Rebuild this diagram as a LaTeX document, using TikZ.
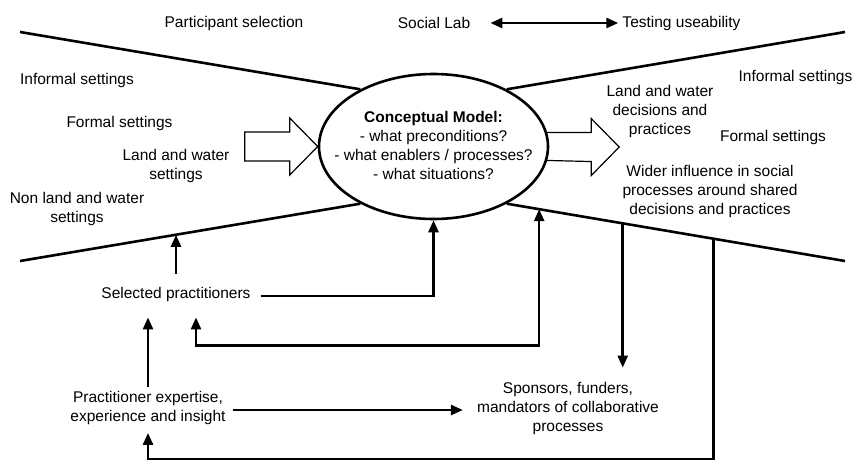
\documentclass[tikz,border=0pt]{standalone}
\usepackage{fontspec}
\setmainfont{Liberation Sans}
\usepackage{tikz}
\usetikzlibrary{shapes.geometric,arrows.meta}
\tikzstyle{every node}=[font=\fontsize{15.5}{19}\selectfont,inner sep=0pt,align=center]
\tikzstyle{thickline}=[line width=2.6pt]
\tikzstyle{arr}=[thickline,-{Triangle[length=12pt,width=10pt]}]
\tikzstyle{arrboth}=[thickline,{Triangle[length=12pt,width=10pt]}-{Triangle[length=12pt,width=10pt]}]
\tikzstyle{blockarrow}=[draw,line width=1.2pt,line join=miter]
\tikzstyle{modelshape}=[draw,ellipse,line width=2.6pt,minimum width=229pt,minimum height=145pt]

\begin{document}
\begin{tikzpicture}[x=1pt,y=-1pt]
    \useasboundingbox (0,0) rectangle (856,460);

    \node [modelshape] (model) at (433.5,146.5) {};
    \node (modeltext) at (433.5,145) {\textbf{Conceptual Model:}\\- what preconditions?\\- what enablers / processes?\\- what situations?};

    \node (psel) at (234,23) {Participant selection};
    \node (social) at (434,23) {Social Lab};
    \node (testing) at (681.5,23) {Testing useability};

    \node (infleft) at (77,80) {Informal settings};
    \node (formleft) at (119.5,123) {Formal settings};
    \node (lwset) at (176,166) {Land and water\\settings};
    \node (nonlw) at (77,209) {Non land and water\\settings};

    \node (lwdec) at (660,111) {Land and water\\decisions and\\practices};
    \node (infright) at (795.5,77) {Informal settings};
    \node (formright) at (773,137) {Formal settings};
    \node (wider) at (710,191) {Wider influence in social\\processes around shared\\decisions and practices};

    \node (sel) at (176,294) {Selected practitioners};
    \node (prac) at (148,408) {Practitioner expertise,\\experience and insight};
    \node (spons) at (568,408) {Sponsors, funders,\\mandators of collaborative\\processes};

    \coordinate (ul) at (20,32);
    \coordinate (ur) at (845,32);
    \coordinate (ll) at (20,261);
    \coordinate (lr) at (845,261);

    \draw [thickline] (ul) -- (model.142);
    \draw [thickline] (model.38) -- (ur);
    \draw [thickline] (model.218) -- (ll) coordinate[pos=0.543] (llA);
    \draw [thickline] (model.322) -- (lr) coordinate[pos=0.096] (lrA)
        coordinate[pos=0.343] (lrB) coordinate[pos=0.611] (lrC);

    \draw [blockarrow] (model.west) -- ++(-28,-28.5) -- ++(0,14) -- ++(-45,0)
        -- ++(0,29) -- ++(45,0) -- ++(0,14) -- cycle;
    \draw [blockarrow] (model.7) -- ++(44,0) -- ++(0,-14) -- ++(28,28.5)
        -- ++(-28,28.5) -- ++(0,-14) -- (model.-7);

    \draw [arrboth] ([xshift=20pt]social.east) -- ([xshift=-4pt]testing.west);
    \draw [arr] ([yshift=13pt]sel.north) -- (sel.north |- llA);
    \draw [arr] ([xshift=10pt,yshift=-2pt]sel.east) -| (model.south);
    \draw [arrboth] ([xshift=20pt,yshift=-16pt]sel.south) -- ++(0,28) -| (lrA);
    \draw [arr] ([yshift=4pt]prac.north) -- ([xshift=-28pt,yshift=-16pt]sel.south);
    \draw [arr] ([xshift=7pt,yshift=-2pt]prac.east) -- ([xshift=-14pt,yshift=-2pt]spons.west);
    \draw [arr,shorten >=14pt] (lrB) -- (lrB |- spons.north);
    \draw [arr] (lrC) |- ([yshift=-34pt]prac.south) -- ([yshift=-8pt]prac.south);
\end{tikzpicture}
\end{document}
